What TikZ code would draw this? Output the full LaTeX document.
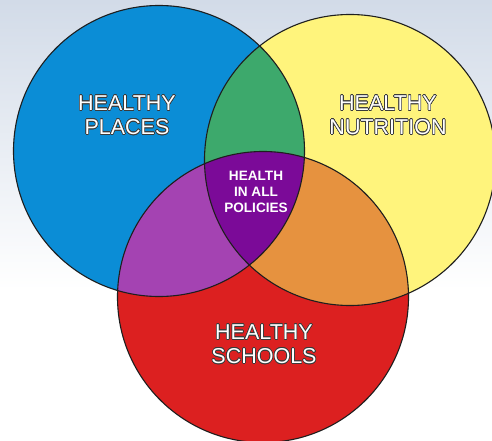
\documentclass[tikz,border=0pt]{standalone}
\usepackage{fontspec}
\setmainfont{Liberation Sans}
\usepackage{contour}
\contourlength{0.55pt}
\contournumber{24}
\definecolor{bgc}{HTML}{D2DBE8}
\definecolor{cblue}{HTML}{0B8DD6}
\definecolor{cyellow}{HTML}{FFF47C}
\definecolor{cred}{HTML}{DC2020}
\definecolor{cgreen}{HTML}{3DA96C}
\definecolor{cpurple}{HTML}{A443B2}
\definecolor{corange}{HTML}{E6923F}
\definecolor{ccenter}{HTML}{7B0A98}
\definecolor{cline}{HTML}{1E1E1E}
\definecolor{txtline}{HTML}{3A3A3A}
\tikzset{
  ring/.style={draw=cline, line width=1.1pt},
  biglabel/.style={align=center, font=\fontsize{21.5}{24}\selectfont, inner sep=0pt},
  midlabel/.style={align=center, text=white, font=\fontsize{13.6}{15.7}\selectfont\bfseries, inner sep=0pt}
}
\newcommand{\outl}[1]{\contour{txtline}{\textcolor{white}{#1}}}
\begin{document}
\begin{tikzpicture}[x=1pt,y=-1pt]
\useasboundingbox (0,0) rectangle (492,441);
\fill[white] (0,0) rectangle (492,441);
\shade[top color=bgc, bottom color=white] (0,0) rectangle (492,290);
% base circles
\coordinate (pb) at (159,151);
\coordinate (py) at (350,160);
\coordinate (pr) at (263,297);
\def\R{145.5}
\fill[cblue] (pb) circle[radius=\R];
\fill[cyellow] (py) circle[radius=\R];
\fill[cred] (pr) circle[radius=\R];
% pairwise overlaps
\begin{scope}
  \clip (pb) circle[radius=\R];
  \fill[cgreen] (py) circle[radius=\R];
  \fill[cpurple] (pr) circle[radius=\R];
\end{scope}
\begin{scope}
  \clip (py) circle[radius=\R];
  \fill[corange] (pr) circle[radius=\R];
\end{scope}
% triple overlap
\begin{scope}
  \clip (pb) circle[radius=\R];
  \clip (py) circle[radius=\R];
  \fill[ccenter] (pr) circle[radius=\R];
\end{scope}
% outlines
\draw[ring] (pb) circle[radius=\R];
\draw[ring] (py) circle[radius=\R];
\draw[ring] (pr) circle[radius=\R];
% labels
\node[biglabel] (places) at (127,115.5) {\outl{HEALTHY}\\\outl{PLACES}};
\node[biglabel] (nutrition) at (388,115.5) {\outl{HEALTHY}\\\outl{NUTRITION}};
\node[biglabel] (schools) at (264,344.5) {\outl{HEALTHY}\\\outl{SCHOOLS}};
\node[midlabel] (hiap) at (256,192) {HEALTH\\IN ALL\\POLICIES};
\end{tikzpicture}
\end{document}
